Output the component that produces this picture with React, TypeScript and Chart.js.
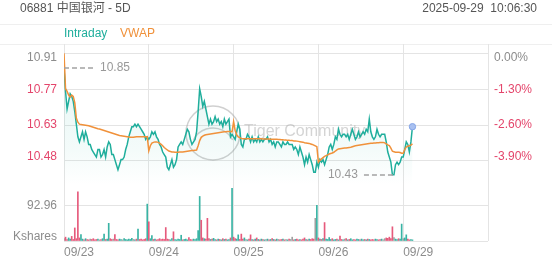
import React, { useEffect, useRef } from 'react';
import { Chart, registerables } from 'chart.js';

Chart.register(...registerables);

const FONT = "'Liberation Sans', Arial, 'Noto Sans CJK SC', sans-serif";

// ---- text ----
const TITLE = '06881 中国银河 - 5D';
const STAMP = '2025-09-29  10:06:30';
const LEGEND_LABELS = ['Intraday', 'VWAP'];
const DATES = ['09/23', '09/24', '09/25', '09/26', '09/29'];
const VOL_UNIT = 'Kshares';
const WATERMARK = 'Tiger Community';

// ---- axis values ----
const PREV_CLOSE = 10.91;
const PCT_TICKS = [-3.9, -2.6, -1.3, 0];
const VOL_TICKS = [0, 92.96];
const PRICE_VIEW = [10.3897, 10.9467];
const VOL_VIEW = [0, 145.8];
const MINUTES_PER_DAY = 330;
const STEP_MIN = 6;

// ---- intraday price, one value per 6 minutes ----
const PRICE_D1 = [10.85, 10.76, 10.69, 10.72, 10.75, 10.74, 10.72, 10.68, 10.63, 10.58,
  10.56, 10.58, 10.60, 10.57, 10.60, 10.58, 10.55, 10.55, 10.53, 10.52,
  10.51, 10.50, 10.53, 10.53, 10.50, 10.51, 10.53, 10.50, 10.54, 10.56,
  10.55, 10.51, 10.51, 10.49, 10.47, 10.45, 10.47, 10.49, 10.49, 10.50,
  10.53, 10.55, 10.58, 10.60, 10.62, 10.62, 10.63, 10.62, 10.63, 10.62,
  10.61, 10.60, 10.59, 10.57, 10.58];
const PRICE_D2 = [10.57, 10.58, 10.60, 10.59, 10.60, 10.58, 10.57, 10.55, 10.54, 10.52,
  10.51, 10.50, 10.46, 10.45, 10.47, 10.49, 10.46, 10.47, 10.49, 10.54,
  10.55, 10.56, 10.55, 10.57, 10.59, 10.61, 10.60, 10.57, 10.55, 10.56,
  10.57, 10.60, 10.68, 10.77, 10.74, 10.70, 10.72, 10.69, 10.66, 10.63,
  10.65, 10.63, 10.64, 10.66, 10.64, 10.65, 10.63, 10.64, 10.62, 10.65,
  10.63, 10.64, 10.65, 10.58, 10.59];
const PRICE_D3 = [10.58, 10.57, 10.60, 10.63, 10.61, 10.55, 10.54, 10.57, 10.57, 10.59,
  10.58, 10.56, 10.58, 10.56, 10.57, 10.56, 10.58, 10.56, 10.57, 10.56,
  10.57, 10.57, 10.58, 10.56, 10.57, 10.55, 10.56, 10.54, 10.56, 10.56,
  10.55, 10.54, 10.56, 10.55, 10.55, 10.56, 10.55, 10.55, 10.55, 10.53,
  10.54, 10.53, 10.51, 10.54, 10.52, 10.50, 10.47, 10.50, 10.48, 10.51,
  10.49, 10.47, 10.44, 10.44, 10.48];
const PRICE_D4 = [10.46, 10.49, 10.48, 10.49, 10.47, 10.49, 10.51, 10.54, 10.55, 10.53,
  10.55, 10.58, 10.57, 10.61, 10.59, 10.58, 10.59, 10.59, 10.58, 10.59,
  10.57, 10.59, 10.61, 10.59, 10.57, 10.58, 10.60, 10.58, 10.59, 10.60,
  10.59, 10.61, 10.60, 10.65, 10.60, 10.58, 10.57, 10.58, 10.61, 10.59,
  10.58, 10.59, 10.59, 10.59, 10.56, 10.52, 10.50, 10.48, 10.43, 10.43,
  10.47, 10.48, 10.47, 10.48, 10.50];
const PRICE_D5 = [10.50, 10.53, 10.56, 10.55, 10.52, 10.56, 10.62];

// ---- VWAP ----
const VWAP_D1 = [10.910, 10.770, 10.760, 10.745, 10.737, 10.745, 10.740, 10.714, 10.654, 10.638,
  10.630, 10.629, 10.628, 10.627, 10.626, 10.625, 10.624, 10.622, 10.620, 10.618,
  10.616, 10.614, 10.612, 10.611, 10.609, 10.607, 10.605, 10.603, 10.601, 10.599,
  10.597, 10.595, 10.593, 10.591, 10.589, 10.587, 10.585, 10.584, 10.583, 10.582,
  10.581, 10.580, 10.579, 10.578, 10.578, 10.578, 10.579, 10.580, 10.580, 10.580,
  10.580, 10.580, 10.580, 10.580, 10.580];
const VWAP_D2 = [10.525, 10.545, 10.555, 10.558, 10.560, 10.560, 10.558, 10.555, 10.550, 10.545,
  10.538, 10.533, 10.528, 10.524, 10.522, 10.520, 10.520, 10.519, 10.519, 10.519,
  10.520, 10.520, 10.520, 10.521, 10.522, 10.523, 10.524, 10.525, 10.526, 10.526,
  10.527, 10.528, 10.545, 10.565, 10.578, 10.583, 10.586, 10.588, 10.589, 10.590,
  10.591, 10.592, 10.593, 10.594, 10.595, 10.596, 10.597, 10.598, 10.599, 10.600,
  10.600, 10.601, 10.601, 10.601, 10.600];
const VWAP_D3 = [10.640, 10.605, 10.588, 10.580, 10.577, 10.574, 10.572, 10.572, 10.572, 10.572,
  10.572, 10.572, 10.572, 10.572, 10.572, 10.572, 10.572, 10.572, 10.572, 10.571,
  10.571, 10.571, 10.571, 10.571, 10.570, 10.570, 10.570, 10.570, 10.570, 10.569,
  10.569, 10.568, 10.568, 10.567, 10.567, 10.566, 10.566, 10.565, 10.565, 10.564,
  10.564, 10.563, 10.562, 10.561, 10.560, 10.559, 10.557, 10.556, 10.555, 10.554,
  10.552, 10.550, 10.547, 10.544, 10.541];
const VWAP_D4 = [10.480, 10.487, 10.493, 10.498, 10.503, 10.506, 10.509, 10.512, 10.514, 10.516,
  10.519, 10.524, 10.528, 10.532, 10.533, 10.534, 10.535, 10.536, 10.536, 10.537,
  10.538, 10.539, 10.541, 10.543, 10.545, 10.546, 10.547, 10.548, 10.549, 10.550,
  10.551, 10.552, 10.553, 10.554, 10.555, 10.555, 10.556, 10.556, 10.557, 10.557,
  10.558, 10.558, 10.558, 10.556, 10.552, 10.548, 10.545, 10.535, 10.523, 10.521,
  10.519, 10.519, 10.519, 10.518, 10.515];
const VWAP_D5 = [10.515, 10.530, 10.540, 10.543, 10.545, 10.547, 10.552];

// ---- volume (Kshares) ----
const VOL_D1 = [6, 10, 4, 8, 5, 12, 4, 34, 6, 128, 8, 17, 5, 3, 6, 4, 3, 5, 4, 6,
  3, 4, 5, 3, 4, 6, 18, 4, 5, 46, 6, 4, 5, 17, 4, 3, 5, 4, 3, 6,
  4, 3, 5, 4, 7, 4, 3, 5, 31, 4, 5, 3, 4, 6, 96];
const VOL_D2 = [50, 6, 14, 4, 5, 3, 4, 6, 4, 5, 4, 35, 5, 4, 3, 6, 24, 4, 3, 5,
  4, 15, 3, 4, 5, 3, 9, 4, 3, 5, 4, 6, 27, 116, 54, 8, 6, 5, 59, 6,
  4, 5, 7, 4, 3, 5, 4, 3, 6, 4, 5, 3, 4, 8, 137];
const VOL_D3 = [10, 6, 5, 16, 4, 18, 5, 8, 4, 3, 5, 16, 4, 3, 5, 8, 4, 3, 5, 4,
  3, 4, 5, 3, 4, 6, 4, 3, 5, 4, 3, 4, 5, 3, 4, 3, 5, 4, 10, 3,
  4, 5, 3, 4, 3, 5, 8, 4, 3, 5, 4, 6, 5, 59, 93];
const VOL_D4 = [8, 5, 4, 6, 48, 5, 4, 9, 4, 6, 3, 4, 5, 3, 13, 4, 3, 5, 6, 3,
  4, 6, 3, 4, 3, 5, 4, 3, 5, 3, 4, 3, 5, 4, 3, 4, 3, 5, 4, 3,
  4, 5, 3, 6, 8, 7, 10, 6, 37, 9, 5, 4, 6, 5, 44];
const VOL_D5 = [6, 8, 16, 5, 3, 4, 3];

// ---- colours ----
const TEAL = '#1fae9c';
const ORANGE = '#f0913a';
const RED_TXT = '#e4456b';
const GRAY_TXT = '#8c8c8c';
const BAR_UP = '#39b3a4';
const BAR_DOWN = '#e65a7c';
const BAR_FLAT = '#a0a0a0';
const GRID = '#e4e4e4';

const PRICE_DAYS = [PRICE_D1, PRICE_D2, PRICE_D3, PRICE_D4, PRICE_D5];
const VWAP_DAYS = [VWAP_D1, VWAP_D2, VWAP_D3, VWAP_D4, VWAP_D5];
const VOL_DAYS = [VOL_D1, VOL_D2, VOL_D3, VOL_D4, VOL_D5];

type Pt = { x: number; y: number };

function buildSeries() {
  const price: Pt[] = [];
  const vwap: Pt[] = [];
  const vol: Pt[] = [];
  const volColors: string[] = [];
  let prev: number | null = null;
  PRICE_DAYS.forEach((day, d) => {
    day.forEach((p, i) => {
      const x = d * MINUTES_PER_DAY + i * STEP_MIN;
      price.push({ x, y: p });
      vwap.push({ x, y: VWAP_DAYS[d][i] });
      vol.push({ x, y: VOL_DAYS[d][i] });
      volColors.push(prev === null ? BAR_FLAT : p > prev ? BAR_UP : p < prev ? BAR_DOWN : BAR_FLAT);
      prev = p;
    });
  });
  return { price, vwap, vol, volColors };
}

const toPct = (p: number) => (p / PREV_CLOSE - 1) * 100;

export default function App() {
  const ref = useRef<HTMLCanvasElement>(null);

  useEffect(() => {
    const canvas = ref.current;
    if (!canvas) return;
    const { price, vwap, vol, volColors } = buildSeries();
    const lastIdx = price.length - 1;
    const dayTicks = DATES.map((_, i) => i * MINUTES_PER_DAY).concat([DATES.length * MINUTES_PER_DAY]);

    Chart.defaults.font.family = FONT;
    Chart.defaults.font.size = 12;

    const decor = {
      id: 'decor',
      beforeDraw(chart: any) {
        const { ctx, chartArea } = chart;
        ctx.save();
        ctx.fillStyle = '#ffffff';
        ctx.fillRect(0, 0, chart.width, chart.height);
        ctx.strokeStyle = '#efefef';
        ctx.lineWidth = 1;
        ctx.beginPath();
        ctx.moveTo(0, 24.5); ctx.lineTo(chart.width, 24.5);
        ctx.moveTo(0, chartArea.top + 0.5); ctx.lineTo(chart.width, chartArea.top + 0.5);
        ctx.stroke();
        ctx.font = '12px ' + FONT;
        ctx.textBaseline = 'middle';
        ctx.fillStyle = '#555555';
        ctx.textAlign = 'left';
        ctx.fillText(TITLE, 20, 8.5);
        ctx.textAlign = 'right';
        ctx.fillText(STAMP, 537, 8.5);
        ctx.textAlign = 'left';
        ctx.fillStyle = TEAL;
        ctx.fillText(LEGEND_LABELS[0], chartArea.left, 34);
        ctx.fillStyle = ORANGE;
        ctx.fillText(LEGEND_LABELS[1], chartArea.left + 56, 34);
        ctx.restore();
      },
      beforeDatasetsDraw(chart: any) {
        const { ctx } = chart;
        ctx.save();
        ctx.strokeStyle = 'rgba(150,150,150,0.45)';
        ctx.lineWidth = 1.5;
        ctx.beginPath();
        ctx.arc(213, 133, 27, 0, Math.PI * 2);
        ctx.stroke();
        ctx.beginPath();
        ctx.arc(213, 150, 22, Math.PI * 1.15, Math.PI * 1.85);
        ctx.stroke();
        ctx.font = '16px ' + FONT;
        ctx.fillStyle = 'rgba(160,160,160,0.45)';
        ctx.textAlign = 'left';
        ctx.textBaseline = 'middle';
        ctx.fillText(WATERMARK, 244, 132);
        ctx.restore();
      },
      afterDatasetsDraw(chart: any) {
        const { ctx } = chart;
        const xs = chart.scales.x;
        const ys = chart.scales.yPrice;
        let hi = 0;
        let lo = 0;
        price.forEach((p, i) => {
          if (p.y > price[hi].y) hi = i;
          if (p.y <= price[lo].y) lo = i;
        });
        const hx = xs.getPixelForValue(price[hi].x);
        const hy = Math.round(ys.getPixelForValue(price[hi].y));
        const lx = xs.getPixelForValue(price[lo].x);
        const ly = Math.round(ys.getPixelForValue(price[lo].y));
        ctx.save();
        ctx.strokeStyle = '#a3a3a3';
        ctx.fillStyle = '#999999';
        ctx.lineWidth = 1.5;
        ctx.setLineDash([5, 3]);
        ctx.beginPath();
        ctx.moveTo(hx, hy); ctx.lineTo(hx + 30, hy);
        ctx.moveTo(lx - 30, ly); ctx.lineTo(lx, ly);
        ctx.stroke();
        ctx.font = '12px ' + FONT;
        ctx.textBaseline = 'middle';
        ctx.textAlign = 'left';
        ctx.fillText(price[hi].y.toFixed(2), hx + 36, hy);
        ctx.textAlign = 'right';
        ctx.fillText(price[lo].y.toFixed(2), lx - 36, ly);
        ctx.restore();
      },
    };

    const tickFont = { size: 12, lineHeight: '9px' } as any;

    const chart = new Chart(canvas, {
      type: 'line',
      data: {
        datasets: [
          {
            type: 'line',
            label: LEGEND_LABELS[1],
            data: vwap,
            xAxisID: 'x',
            yAxisID: 'yPrice',
            borderColor: ORANGE,
            borderWidth: 1.5,
            pointRadius: 0,
            fill: false,
            tension: 0,
            order: 0,
          },
          {
            type: 'line',
            label: LEGEND_LABELS[0],
            data: price,
            xAxisID: 'x',
            yAxisID: 'yPrice',
            borderColor: TEAL,
            borderWidth: 1.5,
            pointRadius: (c: any) => (c.dataIndex === lastIdx ? 3.2 : 0),
            pointBackgroundColor: '#a8c0f0',
            pointBorderColor: '#86a6e8',
            pointBorderWidth: 1,
            fill: 'start',
            backgroundColor: (c: any) => {
              const ch = c.chart;
              const s = ch.scales && ch.scales.yPrice;
              if (!s || !ch.chartArea) return 'rgba(31,174,156,0.06)';
              const g = ch.ctx.createLinearGradient(0, s.top, 0, s.bottom);
              g.addColorStop(0, 'rgba(31,174,156,0.13)');
              g.addColorStop(0.75, 'rgba(31,174,156,0.05)');
              g.addColorStop(1, 'rgba(31,174,156,0)');
              return g;
            },
            tension: 0,
            order: 1,
          },
          {
            type: 'bar',
            label: VOL_UNIT,
            data: vol,
            xAxisID: 'x',
            yAxisID: 'yVol',
            backgroundColor: volColors,
            barThickness: 1,
            order: 2,
          },
        ] as any,
      },
      options: {
        responsive: false,
        devicePixelRatio: 1,
        animation: false,
        events: [],
        layout: { padding: { top: 44, left: 0, right: 0, bottom: 0 } },
        plugins: { legend: { display: false }, tooltip: { enabled: false } },
        scales: {
          x: {
            type: 'linear',
            offset: false,
            min: 0,
            max: DATES.length * MINUTES_PER_DAY,
            afterBuildTicks: (s: any) => { s.ticks = dayTicks.map((v) => ({ value: v })); },
            afterFit: (s: any) => { s.height = 24; },
            ticks: {
              callback: (_v: any, i: number) => DATES[i] ?? '',
              align: 'start',
              autoSkip: false,
              maxRotation: 0,
              padding: 4,
              color: GRAY_TXT,
              font: { size: 12 },
            },
            grid: { color: GRID, drawTicks: false, offset: false },
            border: { display: false },
          },
          yPrice: {
            type: 'linear',
            position: 'left',
            stack: 'L',
            stackWeight: 141,
            weight: 1,
            min: PRICE_VIEW[0],
            max: PRICE_VIEW[1],
            afterBuildTicks: (s: any) => {
              s.ticks = PCT_TICKS.map((p) => ({ value: PREV_CLOSE * (1 + p / 100) }));
            },
            afterFit: (s: any) => { s.width = 64; },
            ticks: {
              autoSkip: false,
              padding: 7,
              font: tickFont,
              color: (c: any) => (c.tick && c.tick.value >= PREV_CLOSE - 1e-6 ? GRAY_TXT : RED_TXT),
              callback: (v: any, i: number, arr: any[]) => {
                const s = Number(v).toFixed(2);
                if (i === arr.length - 1) return ['', s];
                if (i === 0) return [s, ''];
                return s;
              },
            },
            grid: { color: GRID, drawTicks: false },
            border: { display: false },
          },
          yVol: {
            type: 'linear',
            position: 'left',
            stack: 'L',
            stackWeight: 56,
            weight: 0,
            beginAtZero: true,
            min: VOL_VIEW[0],
            max: VOL_VIEW[1],
            afterBuildTicks: (s: any) => { s.ticks = VOL_TICKS.map((v) => ({ value: v })); },
            afterFit: (s: any) => { s.width = 64; },
            ticks: {
              autoSkip: false,
              padding: 7,
              font: tickFont,
              color: GRAY_TXT,
              callback: (v: any) => (Number(v) === 0 ? [VOL_UNIT, ''] : Number(v).toFixed(2)),
            },
            grid: { color: GRID, drawTicks: false },
            border: { display: false },
          },
          yPct: {
            type: 'linear',
            position: 'right',
            stack: 'R',
            stackWeight: 141,
            weight: 0,
            min: toPct(PRICE_VIEW[0]),
            max: toPct(PRICE_VIEW[1]),
            afterBuildTicks: (s: any) => { s.ticks = PCT_TICKS.map((v) => ({ value: v })); },
            afterFit: (s: any) => { s.width = 64; },
            ticks: {
              autoSkip: false,
              padding: 6,
              font: tickFont,
              color: (c: any) => (c.tick && c.tick.value >= -1e-6 ? GRAY_TXT : RED_TXT),
              callback: (v: any, i: number, arr: any[]) => {
                const s = Number(v).toFixed(2) + '%';
                if (i === arr.length - 1) return ['', s];
                if (i === 0) return [s, ''];
                return s;
              },
            },
            grid: { display: false, drawTicks: false },
            border: { display: false },
          },
          yVolR: {
            type: 'linear',
            position: 'right',
            stack: 'R',
            stackWeight: 56,
            weight: 1,
            min: VOL_VIEW[0],
            max: VOL_VIEW[1],
            afterFit: (s: any) => { s.width = 64; },
            ticks: { display: false },
            grid: { display: false, drawTicks: false },
            border: { display: false },
          },
        } as any,
      },
      plugins: [decor],
    });
    return () => chart.destroy();
  }, []);

  return (
    <div style={{ position: 'absolute', left: 0, top: 0, width: 552, height: 265, background: '#fff' }}>
      <canvas ref={ref} width={552} height={265} style={{ display: 'block', width: 552, height: 265 }} />
    </div>
  );
}
